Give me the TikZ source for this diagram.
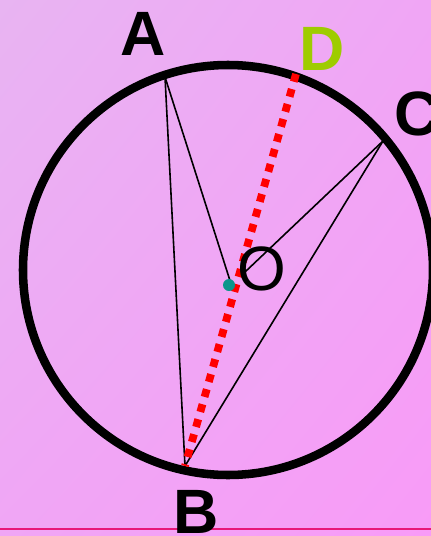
\documentclass[tikz,border=0pt]{standalone}
\usepackage{fontspec}
\setmainfont{Liberation Sans}
\usetikzlibrary{positioning,shadings}
\definecolor{bgtl}{RGB}{232,180,242}
\definecolor{bgmid}{RGB}{240,166,245}
\definecolor{bgbr}{RGB}{248,155,247}
\definecolor{dgreen}{RGB}{158,204,0}
\definecolor{ddot}{RGB}{10,150,140}
\definecolor{baseln}{RGB}{232,24,120}

\begin{document}
\begin{tikzpicture}[
  x=0.75pt,y=-0.75pt,
  rim/.style={draw=black,line width=6.4pt},
  chord/.style={draw=black,line width=1.2pt},
  diam/.style={draw=red,line width=5.8pt,dash pattern=on 6pt off 5.7pt},
  lbl/.style={inner sep=0pt,font=\fontsize{47}{50}\selectfont\bfseries},
  olbl/.style={inner sep=0pt,font=\fontsize{47}{50}\selectfont}
]
\shade[upper left=bgtl,upper right=bgmid,lower left=bgmid,lower right=bgbr]
  (0,0) rectangle (431,536);
\useasboundingbox (0,0) rectangle (431,536);
\draw[baseln,line width=1.6pt] (0,529) -- (431,529);

\coordinate (M) at (228,270);
\coordinate (A) at (165,77);
\coordinate (B) at (185,466);
\coordinate (C) at (383,141);
\coordinate (D) at (296,74);
\coordinate (O) at (229,285);
\coordinate (Oa) at (233,290);
\coordinate (Oc) at (245,272);

\draw[rim] (M) circle[radius=205];

\draw[chord] (A) -- (B) -- (C);
\draw[chord] (A) -- (Oa);
\draw[chord] (C) -- (Oc);
\draw[diam] (D) -- (B);
\fill[ddot] (O) circle[radius=6];

\node[lbl] (la) at (143.5,33.5) {A};
\node[lbl,text=dgreen] (ld) at (322,49) {D};
\node[lbl] (lc) at (417,114) {C};
\node[lbl] (lb) at (196,512) {B};
\node[olbl] (lo) at (262,269) {O};
\end{tikzpicture}
\end{document}
